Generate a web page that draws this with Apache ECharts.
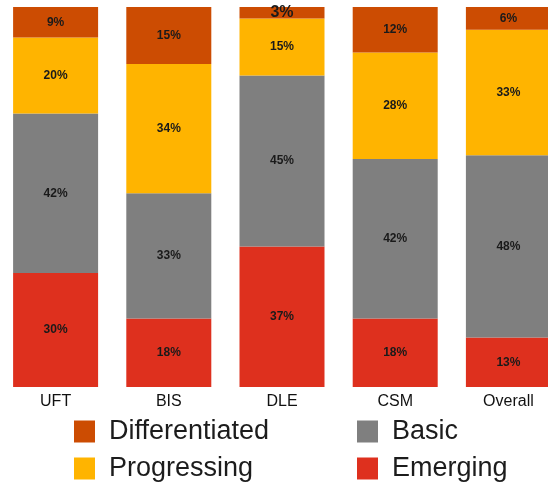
<!DOCTYPE html>
<html>
<head>
<meta charset="utf-8">
<script src="https://cdn.jsdelivr.net/npm/echarts@6/dist/echarts.min.js"></script>
<style>html,body{margin:0;padding:0;background:#fff}#c{width:548px;height:482px}</style>
</head>
<body>
<div id="c"></div>
<script>
const categories = ['UFT', 'BIS', 'DLE', 'CSM', 'Overall'];
const emerging = [30, 18, 37, 18, 13];
const basic = [42, 33, 45, 42, 48];
const progressing = [20, 34, 15, 28, 33];
const differentiated = [9, 15, 3, 12, 6];

const colors = {
  Differentiated: '#CC4C02',
  Progressing: '#FFB400',
  Basic: '#7F7F7F',
  Emerging: '#DE301E'
};

function mk(name, values, bigIndex) {
  return {
    name: name,
    type: 'bar',
    stack: 'total',
    barWidth: 85,
    clip: true,
    itemStyle: { color: colors[name] },
    label: {
      show: true,
      position: 'inside',
      formatter: '{c}%',
      color: '#1a1a1a',
      fontFamily: 'Liberation Sans, Arial, sans-serif',
      fontWeight: 'bold',
      fontSize: 12
    },
    data: values.map((v, i) => (i === bigIndex ? { value: v, label: { fontSize: 16 } } : v))
  };
}

const chart = echarts.init(document.getElementById('c'), null, { renderer: 'canvas' });
const legendText = {
  fontFamily: 'Liberation Sans, Arial, sans-serif',
  fontSize: 27,
  lineHeight: 27,
  color: '#1c1c1c',
  padding: [0, 0, 0, 9]
};
chart.setOption({
  animation: false,
  grid: { left: -1, width: 566, top: 7, bottom: 95, containLabel: false, outerBoundsMode: 'none' },
  xAxis: {
    type: 'category',
    data: categories,
    axisLine: { show: false },
    axisTick: { show: false },
    axisLabel: {
      margin: 7,
      fontSize: 16,
      color: '#111',
      fontFamily: 'Liberation Sans, Arial, sans-serif'
    }
  },
  yAxis: { type: 'value', min: 0, max: 100, show: false },
  legend: [
    {
      orient: 'vertical', left: 74, top: 418, itemGap: 10, padding: 0, height: 80,
      itemWidth: 21, itemHeight: 22, icon: 'rect',
      data: ['Differentiated', 'Progressing'], textStyle: legendText
    },
    {
      orient: 'vertical', left: 357, top: 418, itemGap: 10, padding: 0, height: 80,
      itemWidth: 21, itemHeight: 22, icon: 'rect',
      data: ['Basic', 'Emerging'], textStyle: legendText
    }
  ],
  series: [
    mk('Emerging', emerging, -1),
    mk('Basic', basic, -1),
    mk('Progressing', progressing, -1),
    mk('Differentiated', differentiated, 2)
  ]
});
</script>
</body>
</html>
